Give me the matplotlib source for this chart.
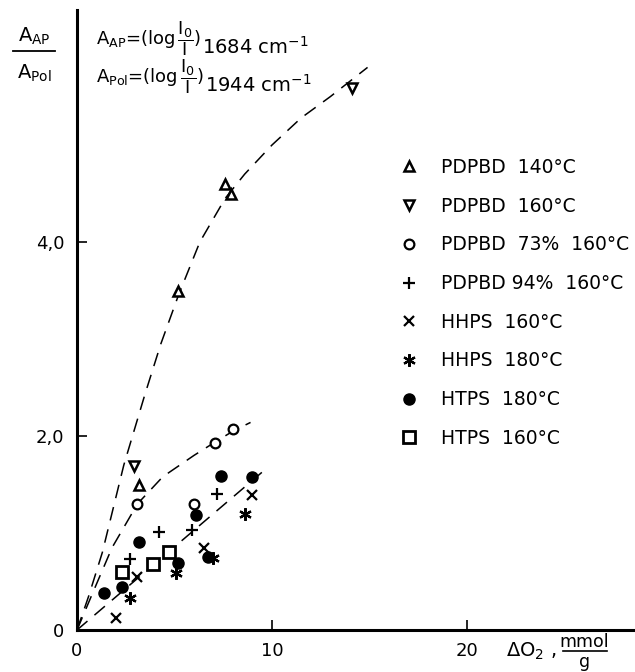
import numpy as np
import matplotlib
matplotlib.use("Agg")
import matplotlib.pyplot as plt
from matplotlib.lines import Line2D

plt.rcParams["font.family"] = "DejaVu Sans"
plt.rcParams["mathtext.default"] = "regular"

# data (x = delta O2 in mmol/g, y = A_AP / A_Pol)
pd140_x = [3.2, 5.2, 7.6, 7.9]
pd140_y = [1.5, 3.5, 4.6, 4.5]
pd160_x = [2.9, 14.1]
pd160_y = [1.69, 5.59]
pd73_x = [3.1, 6.0, 7.1, 8.0]
pd73_y = [1.3, 1.3, 1.93, 2.07]
pd94_x = [2.7, 4.2, 5.9, 7.2]
pd94_y = [0.73, 1.01, 1.03, 1.40]
hh160_x = [2.0, 3.1, 6.5, 9.0]
hh160_y = [0.12, 0.55, 0.85, 1.39]
hh180_x = [2.7, 5.1, 7.0, 8.6]
hh180_y = [0.33, 0.59, 0.74, 1.2]
ht180_x = [1.4, 2.3, 3.2, 5.2, 6.1, 6.7, 7.4, 9.0]
ht180_y = [0.38, 0.44, 0.91, 0.69, 1.19, 0.75, 1.59, 1.58]
ht160_x = [2.3, 3.9, 4.7]
ht160_y = [0.6, 0.68, 0.8]

# dashed guide curves
curve1_x = [0, 0.6, 1.3, 2.4, 3.5, 4.3, 5.2, 6.3, 7.6, 8.6, 10.0, 11.5, 13.0, 14.9]
curve1_y = [0, 0.35, 0.8, 1.7, 2.44, 2.95, 3.45, 4.0, 4.45, 4.7, 5.0, 5.28, 5.5, 5.8]
curve2_x = [0, 0.8, 1.8, 3.1, 4.4, 6.0, 7.1, 8.0, 8.9]
curve2_y = [0, 0.38, 0.85, 1.3, 1.58, 1.8, 1.94, 2.05, 2.14]
curve3_x = [0, 9.8]
curve3_y = [0, 1.68]

labels = ["PDPBD  140°C", "PDPBD  160°C", "PDPBD  73%  160°C", "PDPBD 94%  160°C",
          "HHPS  160°C", "HHPS  180°C", "HTPS  180°C", "HTPS  160°C"]

W, H = 635, 672
fig = plt.figure(figsize=(W / 100, H / 100), dpi=100)
x0, y0, x1, y1 = 77, 630, 635, 10
ax = fig.add_axes([x0 / W, 1 - y0 / H, (x1 - x0) / W, (y0 - y1) / H])
ax.set_xlim(0, (x1 - x0) / 19.5)
ax.set_ylim(0, (y0 - y1) / 97)

dash = dict(color="black", lw=1.1, ls=(0, (9, 6)))
ax.plot(curve1_x, curve1_y, **dash)
ax.plot(curve2_x, curve2_y, **dash)
ax.plot(curve3_x, curve3_y, **dash)

asterisk = (6, 2, 0)
styles = [
    dict(marker="^", mfc="white", mec="black", ms=7, mew=1.8),
    dict(marker="v", mfc="white", mec="black", ms=7, mew=1.8),
    dict(marker="o", mfc="white", mec="black", ms=7, mew=1.6),
    dict(marker="+", color="black", ms=9, mew=1.6),
    dict(marker="x", color="black", ms=7, mew=1.6),
    dict(marker=asterisk, color="black", ms=9, mew=1.6),
    dict(marker="o", color="black", ms=8),
    dict(marker="s", mfc="white", mec="black", ms=8, mew=2.0),
]
series = [(pd140_x, pd140_y), (pd160_x, pd160_y), (pd73_x, pd73_y), (pd94_x, pd94_y),
          (hh160_x, hh160_y), (hh180_x, hh180_y), (ht180_x, ht180_y), (ht160_x, ht160_y)]
for (xs, ys), st in zip(series, styles):
    ax.plot(xs, ys, ls="none", **st)

for s in ["top", "right"]:
    ax.spines[s].set_visible(False)
for s in ["left", "bottom"]:
    ax.spines[s].set_linewidth(2.2)

ax.set_xticks([0, 10, 20])
ax.set_xticklabels(["0", "10", "20"])
ax.set_yticks([0, 2, 4])
ax.set_yticklabels(["0", "2,0", "4,0"])
ax.tick_params(direction="in", length=7, width=1.2, labelsize=13, pad=9)

handles = [Line2D([], [], ls="none", **st) for st in styles]
leg = ax.legend(handles, labels, loc="upper left",
                bbox_to_anchor=(400 / W, 1 - 158 / H), bbox_transform=fig.transFigure,
                frameon=False, fontsize=13.5, borderpad=0, borderaxespad=0,
                handlelength=1.0, handletextpad=1.2, labelspacing=1.05)


def ftext(x, y, s, **kw):
    return fig.text(x / W, 1 - y / H, s, **kw)


# y axis label as a fraction
ftext(34, 42, "A$_{AP}$", fontsize=14, ha="center", va="baseline")
fig.add_artist(Line2D([13 / W, 55 / W], [1 - 51 / H, 1 - 51 / H], color="black", lw=1.3))
ftext(34, 79, "A$_{Pol}$", fontsize=14, ha="center", va="baseline")

# formula block at the top
fig.canvas.draw()
rend = fig.canvas.get_renderer()
for ybase, sub, num in [(45, "AP", "1684"), (83, "Pol", "1944")]:
    t = ftext(96, ybase, "A$_{%s}$=(log$\\,\\dfrac{I_0}{I}$)" % sub,
              fontsize=13, ha="left", va="baseline")
    bb = t.get_window_extent(rend)
    fig.text(bb.x1 / W + 1 / W, 1 - (ybase + 9) / H, num + " cm$^{-1}$",
             fontsize=14, ha="left", va="baseline")

# x axis label
t = ftext(506, 657, "$\\Delta$O$_2$ ,", fontsize=14, ha="left", va="baseline")
bb = t.get_window_extent(rend)
xm = bb.x1 + 6
fig.text((xm + 22) / W, 1 - 647 / H, "mmol", fontsize=12.5, ha="center", va="baseline")
fig.add_artist(Line2D([xm / W, (xm + 44) / W], [1 - 651 / H, 1 - 651 / H], color="black", lw=1.2))
fig.text((xm + 22) / W, 1 - 667 / H, "g", fontsize=12.5, ha="center", va="baseline")

fig.savefig("out.png", dpi=100)
